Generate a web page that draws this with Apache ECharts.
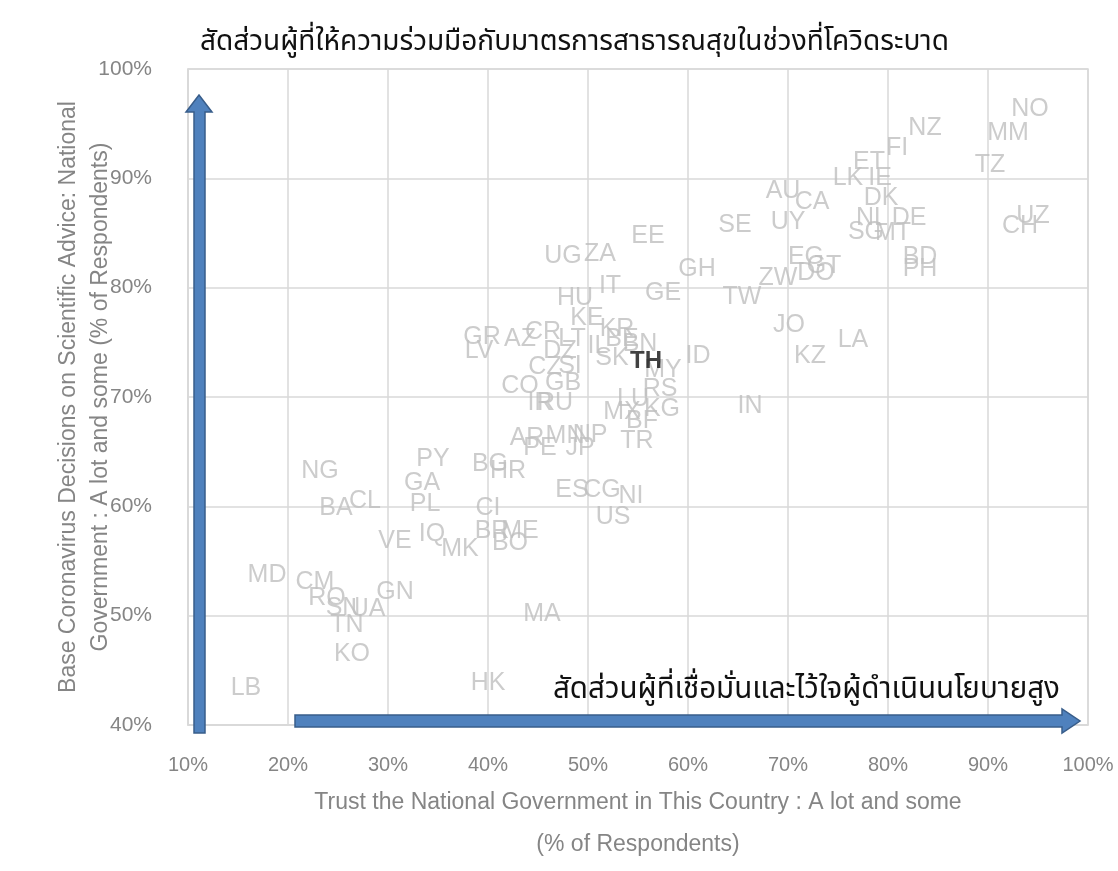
<!DOCTYPE html>
<html>
<head>
<meta charset="utf-8">
<script src="https://cdn.jsdelivr.net/npm/echarts@6/dist/echarts.min.js"></script>
<style>
html,body{margin:0;padding:0;background:#fff;}
#chart{width:1118px;height:871px;}
</style>
</head>
<body>
<div id="chart"></div>
<script>
// ---- data ----
var countryCodes = ["NO","NZ","MM","FI","ET","TZ","LK","IE","AU","DK","CA","SE","UY","NL","DE","SG","MT","UZ","CH","EE",
  "UG","ZA","BD","PH","EG","GT","DO","ZW","GH","IT","GE","TW","HU","KE","KR","JO","LA","GR","AZ","CR",
  "LT","DZ","LV","IL","BE","BN","SK","MY","ID","KZ","CZ","SI","CO","GB","RS","IR","RU","LU","KG","MX",
  "BF","IN","TR","AR","MN","NP","PE","JP","BG","HR","PY","GA","NG","CL","BA","PL","ES","CG","NI","US",
  "CI","BR","ME","BO","VE","IQ","MK","MD","CM","GN","RO","SN","UA","TN","KO","MA","HK","LB"];
var trustGovernment = [94.2,83.7,92.0,80.9,78.1,90.2,76.0,79.2,69.5,79.3,72.4,64.7,70.0,78.4,82.1,77.8,80.5,94.5,93.2,56.0,
  47.5,51.2,83.2,83.2,71.8,73.6,72.8,69.0,60.9,52.2,57.5,65.4,48.7,49.9,52.9,70.1,76.5,39.4,43.2,45.5,
  48.4,47.2,39.1,51.0,53.4,55.2,52.4,57.5,61.0,72.2,45.7,48.2,43.2,47.5,57.2,45.2,46.7,54.5,57.4,53.4,
  55.4,66.2,54.9,43.9,47.7,50.2,45.2,49.2,40.2,42.0,34.5,33.4,23.2,27.7,24.8,33.7,48.4,51.4,54.3,52.5,
  40.0,40.4,43.2,42.2,30.7,34.4,37.2,17.9,22.7,30.7,23.9,25.5,28.0,25.9,26.4,45.4,40.0,15.8];
var scienceBasedDecisions = [96.3,94.6,94.1,92.8,91.5,91.2,90.0,90.0,88.8,88.2,87.8,85.7,86.0,86.4,86.4,85.1,85.0,86.5,85.6,84.7,
  82.9,83.1,82.8,81.7,82.8,82.0,81.3,80.9,81.7,80.1,79.5,79.1,79.0,77.2,76.2,76.6,75.2,75.5,75.3,75.9,
  75.3,74.2,74.2,74.7,75.3,74.8,73.6,72.5,73.7,73.7,72.7,72.8,71.0,71.3,70.7,69.4,69.4,69.8,68.9,68.6,
  67.8,69.2,66.0,66.2,66.4,66.5,65.3,65.3,63.9,63.2,64.3,62.1,63.2,60.5,59.8,60.2,61.5,61.5,60.9,59.0,
  59.8,57.7,57.7,56.6,56.8,57.5,56.1,53.7,53.1,52.2,51.6,50.7,50.6,49.1,46.5,50.1,43.8,43.4];
var highlightCodes = ["TH"];
var highlightTrust = [55.8];
var highlightScience = [73.3];
var xTicks = [10,20,30,40,50,60,70,80,90,100];
var yTicks = [40,50,60,70,80,90,100];

var chartTitle = "สัดส่วนผู้ที่ให้ความร่วมมือกับมาตรการสาธารณสุขในช่วงที่โควิดระบาด";
var arrowNote = "สัดส่วนผู้ที่เชื่อมั่นและไว้ใจผู้ดำเนินนโยบายสูง";
var xName = "Trust the National Government in This Country : A lot and some\n(% of Respondents)";
var yName = "Base Coronavirus Decisions on Scientific Advice: National\nGovernment : A lot and some (% of Respondents)";

var thaiFont = "'Noto Sans Thai','Noto Sans Thai Looped','Loma','Garuda','Tlwg Typo','DejaVu Sans',sans-serif";
var gridColor = '#d9d9d9';

var mainData = countryCodes.map(function(c,i){ return {name:c, value:[trustGovernment[i], scienceBasedDecisions[i]]}; });
var hiData = highlightCodes.map(function(c,i){ return {name:c, value:[highlightTrust[i], highlightScience[i]]}; });

var chart = echarts.init(document.getElementById('chart'), null, {renderer:'canvas'});
chart.setOption({
  animation:false,
  backgroundColor:'#ffffff',
  grid:{left:188,right:30,top:69,bottom:144,show:true,borderColor:gridColor,borderWidth:1.5},
  xAxis:{
    type:'value', min:xTicks[0], max:xTicks[xTicks.length-1], interval:10,
    axisLine:{show:true,lineStyle:{color:gridColor,width:1.5}},
    axisTick:{show:false},
    splitLine:{show:true,lineStyle:{color:gridColor,width:1.5}},
    axisLabel:{formatter:'{value}%',color:'#858585',fontSize:20,fontFamily:'Liberation Sans',margin:30},
    name:xName, nameLocation:'middle', nameGap:57, nameMoveOverlap:false,
    nameTextStyle:{color:'#858585',fontSize:23,fontFamily:'Liberation Sans',lineHeight:42}
  },
  yAxis:{
    type:'value', min:yTicks[0], max:yTicks[yTicks.length-1], interval:10,
    axisLine:{show:true,lineStyle:{color:gridColor,width:1.5}},
    axisTick:{show:false},
    splitLine:{show:true,lineStyle:{color:gridColor,width:1.5}},
    axisLabel:{formatter:'{value}%',color:'#858585',fontSize:21,fontFamily:'Liberation Sans',margin:36},
    name:yName, nameLocation:'middle', nameRotate:90, nameGap:71, nameMoveOverlap:false,
    nameTextStyle:{color:'#858585',fontSize:23,fontFamily:'Liberation Sans',lineHeight:32}
  },
  series:[
    {
      type:'scatter', data:mainData, symbolSize:1, itemStyle:{color:'rgba(0,0,0,0)'},
      label:{show:true,position:'inside',formatter:'{b}',color:'#bfbfbf',fontSize:25,fontFamily:'Liberation Sans'},
      labelLayout:{hideOverlap:false},
      emphasis:{disabled:true}, silent:true, z:3
    },
    {
      type:'scatter', data:hiData, symbolSize:1, itemStyle:{color:'rgba(0,0,0,0)'},
      label:{show:true,position:'inside',formatter:'{b}',color:'#111111',fontSize:24,fontWeight:'bold',fontFamily:'Liberation Sans'},
      emphasis:{disabled:true}, silent:true, z:4
    }
  ],
  graphic:[
    {type:'text', left:200, top:30, z:10,
     style:{text:chartTitle, font:'28px '+thaiFont, fill:'#111111'}},
    {type:'text', left:553, top:677, z:10,
     style:{text:arrowNote, font:'29.5px '+thaiFont, fill:'#111111'}},
    {type:'polygon', z:20,
     shape:{points:[[194,733],[194,112],[186,112],[199,95],[212,112],[205,112],[205,733]]},
     style:{fill:'#4f81bd',stroke:'#385d8a',lineWidth:1.5}},
    {type:'polygon', z:20,
     shape:{points:[[295,715],[1062,715],[1062,709],[1080,721],[1062,733],[1062,727],[295,727]]},
     style:{fill:'#4f81bd',stroke:'#385d8a',lineWidth:1.5}}
  ]
});
</script>
</body>
</html>
